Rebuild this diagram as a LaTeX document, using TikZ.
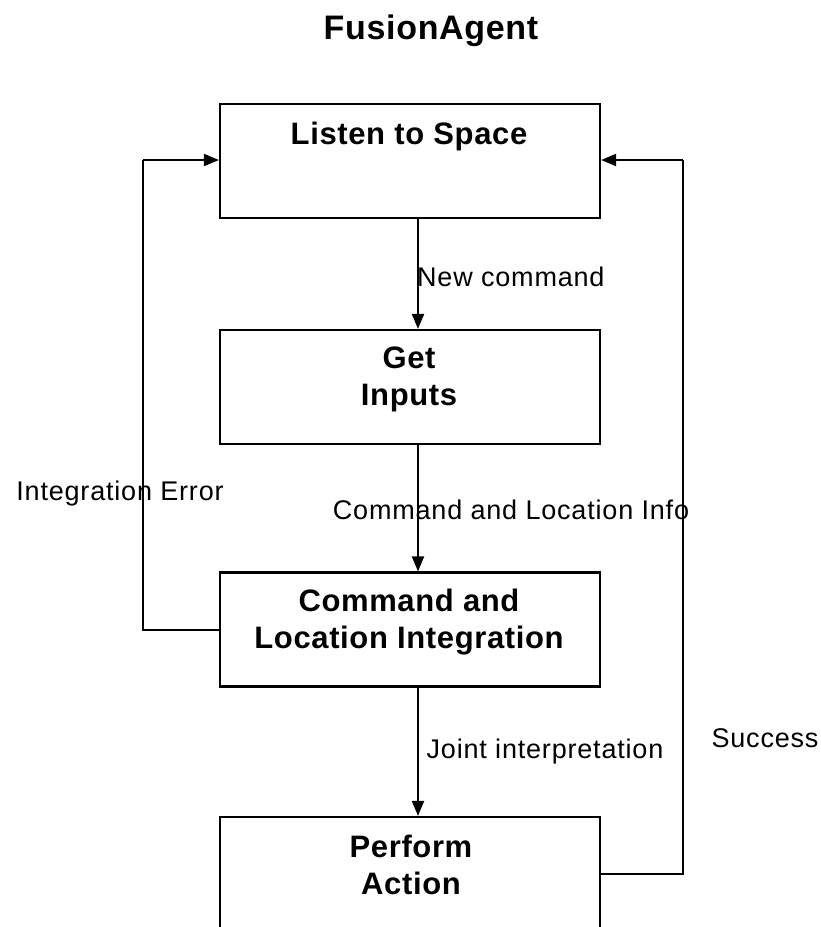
\documentclass[tikz,border=0pt]{standalone}
\usepackage{fontspec}
\setmainfont{Liberation Sans}
\newfontfamily\labelfont[LetterSpace=3]{Liberation Sans}
\newfontfamily\headfont[LetterSpace=2]{Liberation Sans}
\usetikzlibrary{arrows.meta}

\tikzset{
  box/.style={draw, line width=2.2pt, rectangle, minimum width=380pt, minimum height=114pt, inner sep=0pt},
  boxtext/.style={font=\headfont\bfseries\fontsize{31}{37}\selectfont, align=center, inner sep=0pt},
  flowlabel/.style={font=\labelfont\fontsize{27}{32}\selectfont, inner sep=0pt},
  titletext/.style={font=\headfont\bfseries\fontsize{34}{40}\selectfont, inner sep=0pt},
  arr/.style={line width=2pt, -{Triangle[length=15pt,width=12pt]}},
  loopline/.style={line width=2pt}
}

\begin{document}
\begin{tikzpicture}[x=1pt,y=1pt]
  \useasboundingbox (0,0) rectangle (821,-927);
  \fill[white] (0,0) rectangle (821,-927);
  \clip (0,0) rectangle (821,-927);

  % title
  \node[titletext] (title) at (431,-31) {FusionAgent};

  % process boxes
  \node[box] (listen)  at (410,-161) {};
  \node[box] (inputs)  at (410,-387) {};
  \node[box] (integ)   at (410,-629.5) {};
  \node[box] (perform) at (410,-874) {};

  % box captions (set near the top of each box)
  \node[boxtext, anchor=base] (listenT) at (409,-144) {Listen to Space};
  \node[boxtext] (inputsT)  at (409,-379) {Get\\Inputs};
  \node[boxtext] (integT)   at (409,-622) {Command and\\Location Integration};
  \node[boxtext] (performT) at (411,-865) {Perform\\Action};

  % main flow
  \draw[arr] ([xshift=8pt]listen.south) -- ([xshift=8pt]inputs.north);
  \draw[arr] ([xshift=8pt]inputs.south) -- ([xshift=8pt]integ.north);
  \draw[arr] ([xshift=8pt]integ.south) -- ([xshift=8pt]perform.north);

  % feedback loops
  \coordinate (lc) at (143,-160);
  \coordinate (rc) at (683,-160);
  \draw[loopline] (integ.west) -| (lc);
  \draw[arr] (lc) -- (lc -| listen.west);
  \draw[loopline] (perform.east) -| (rc);
  \draw[arr] (rc) -- (rc -| listen.east);

  % connector labels
  \node[flowlabel, anchor=west] (lblNew) at (417,-277) {New command};
  \node[flowlabel] (lblInfo)  at (511,-510) {Command and Location Info};
  \node[flowlabel] (lblErr)   at (120,-494) {Integration Error};
  \node[flowlabel] (lblJoint) at (545,-752) {Joint interpretation};
  \node[flowlabel] (lblOk)    at (765,-738) {Success};
\end{tikzpicture}
\end{document}
